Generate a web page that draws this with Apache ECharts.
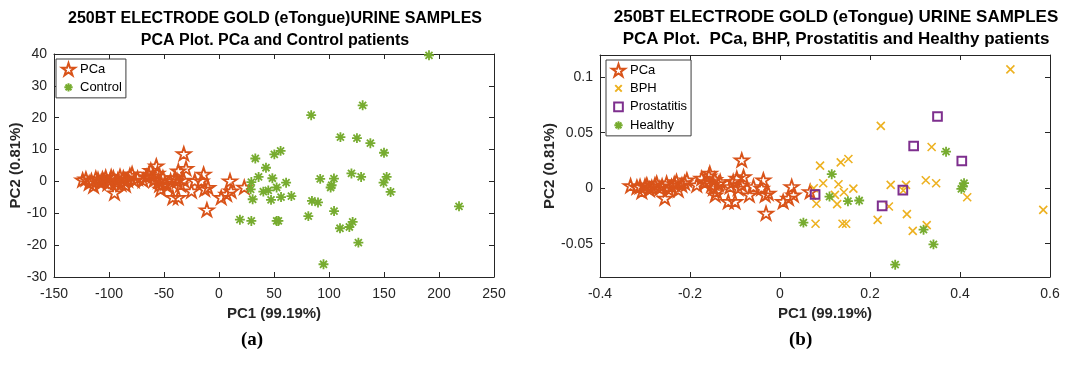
<!DOCTYPE html>
<html>
<head>
<meta charset="utf-8">
<title>250BT electrode gold PCA</title>
<script src="https://cdn.jsdelivr.net/npm/echarts@6/dist/echarts.min.js"></script>
<style>
  html, body { margin: 0; padding: 0; background: #fff; }
  #chart { width: 1069px; height: 367px; }
</style>
</head>
<body>
<div id="chart"></div>
<script>
// ---- data ----
// (a) PCa and Control, [PC1, PC2]
var pcaA = [
  [-124, 0.5], [-121, 0.8], [-118, -0.5], [-116, 0.2], [-114, -1.4], [-112, 1], [-110, 0.6],
  [-108, -0.3], [-106, 0.8], [-105, 0.1], [-103, 1.3], [-101, -0.6], [-99, 0.3], [-98, 1.5],
  [-96, 1.1], [-95, -3.6], [-94, -0.2], [-92, 0.5], [-90, 1.6], [-89, -0.8], [-87, 1.1],
  [-86, 0.2], [-85, -1.1], [-83, 0.5], [-81, 1.9], [-79, 2.4], [-77, 0.3], [-74, 1],
  [-69, 0.4], [-66, 1.5], [-64, 2.3], [-62, 3.5], [-60, 1.8], [-59, 0.5], [-57, 4.9],
  [-56, 2.6], [-55, 0.2], [-54, -1], [-53, -2.4], [-51, 1.2], [-49, -0.5], [-47, -1.4],
  [-44, 0.2], [-42, -5], [-37, -5], [-40, 1.2], [-38, 0.2], [-37, 3.3], [-35, -1],
  [-32, 8.7], [-32, 0.4], [-30, 4.1], [-25, -3], [-22, 0.2], [-14, 2.3], [-16, 0.2],
  [-13, -2.4], [-10, -1.9], [-11, -8.9], [2, -5], [7, -4], [10, 0.2], [11, -3], [23, -1.8]
];
var controlA = [
  [190.9, 39.6], [130.6, 23.9], [83.8, 20.8], [110.4, 13.9], [125.4, 13.6], [137.6, 12],
  [150, 9], [33, 7.2], [50.3, 8.5], [56, 9.6], [42.7, 4.3], [36, 1.4], [48.5, 1], [61, -0.4],
  [29.4, -0.2], [28.8, -2.5], [40.3, -3.2], [44.8, -2.8], [52.4, -1.9], [56.4, -4.9],
  [47.3, -5.8], [65.8, -4.6], [30.6, -5.6], [19, -12], [29.4, -12.4], [52.4, -12.4],
  [54, -12.4], [92, 0.8], [104.5, 0.9], [102.4, -1.2], [101.5, -1.9], [120.4, 2.5],
  [129.2, 1.4], [149.6, -0.4], [152.4, 1.4], [156, -3.3], [84.5, -6.1], [90, -6.6],
  [81.2, -10.9], [104.6, -9.3], [110, -14.7], [118.5, -14.3], [121.5, -12.7],
  [126.7, -19.2], [95, -26], [218.2, -7.8]
];

// (b) PCa, BPH, Prostatitis and Healthy, [PC1, PC2]
var pcaB = [
  [-0.332, 0.0023], [-0.318, 0.001], [-0.311, 0.0015], [-0.307, -0.003], [-0.3, 0.002],
  [-0.296, 0.003], [-0.29, -0.001], [-0.285, 0.0006], [-0.278, 0.003], [-0.274, 0.0045],
  [-0.267, 0], [-0.262, 0.002], [-0.256, -0.009], [-0.252, 0.0045], [-0.247, -0.001],
  [-0.241, 0.0015], [-0.235, 0.004], [-0.23, 0.006], [-0.226, -0.0015], [-0.218, 0.003],
  [-0.212, 0.005], [-0.207, 0.0075], [-0.185, 0.003], [-0.174, 0.009], [-0.168, 0.005],
  [-0.163, 0.006], [-0.158, 0.011], [-0.156, 0.0135], [-0.152, 0.003], [-0.148, 0],
  [-0.145, 0.008], [-0.141, -0.003], [-0.144, -0.006], [-0.137, 0.004], [-0.133, 0.006],
  [-0.115, -0.012], [-0.1, -0.012], [-0.111, 0.0015], [-0.104, 0.006], [-0.096, 0.009],
  [-0.093, 0], [-0.085, 0.0254], [-0.081, 0.0104], [-0.085, 0.003], [-0.068, -0.006],
  [-0.059, 0.0015], [-0.037, 0.0075], [-0.041, 0], [-0.033, -0.006], [-0.026, -0.0045],
  [-0.031, -0.0225], [0.007, -0.012], [0.019, -0.009], [0.026, 0.0015], [0.03, -0.006],
  [0.067, -0.003]
];
var bphB = [
  [0.089, 0.0203], [0.135, 0.0233], [0.152, 0.0263], [0.096, 0.0045], [0.13, 0.0036],
  [0.163, -0.0004], [0.142, -0.0036], [0.122, -0.006], [0.075, 0], [0.081, -0.014],
  [0.127, -0.0144], [0.079, -0.032], [0.139, -0.032], [0.147, -0.032], [0.246, 0.003],
  [0.28, 0.003], [0.274, -0.0021], [0.242, -0.0165], [0.217, -0.0285], [0.282, -0.0234],
  [0.295, -0.0384], [0.326, -0.0333], [0.324, 0.0072], [0.347, 0.0045], [0.416, -0.0081],
  [0.512, 0.107], [0.224, 0.0562], [0.337, 0.0371], [0.585, -0.0195]
];
var prostatitisB = [
  [0.35, 0.0646], [0.297, 0.038], [0.404, 0.0245], [0.273, -0.0018], [0.227, -0.0159],
  [0.078, -0.0057]
];
var healthyB = [
  [0.369, 0.0329], [0.409, 0.0045], [0.406, 0.0015], [0.403, -0.0006], [0.115, 0.0126],
  [0.11, -0.0075], [0.151, -0.0117], [0.176, -0.0111], [0.319, -0.0374], [0.341, -0.0506],
  [0.256, -0.0689], [0.052, -0.031]
];

// tick values for (b) y axis (range -0.08 .. 0.12)
var yTicksB = [-0.05, 0, 0.05, 0.1];

// ---- styling ----
var orange = '#D95319', yellow = '#EDB120', purple = '#7E2F8E', green = '#77AC30';
var axisColor = '#262626';
var font = "'Liberation Sans', Arial, sans-serif";

// the leading moveTo points only widen the box, so the legend icons come out smaller
var starPath = 'path://M0,-1L0.2245,-0.309L0.951,-0.309L0.363,0.118L0.588,0.809L0,0.382L-0.588,0.809L-0.363,0.118L-0.951,-0.309L-0.2245,-0.309Z';
var asteriskPath = 'path://M-1.56,-1.56M1.56,1.56M0,-1L0,1M-1,0L1,0M-0.707,-0.707L0.707,0.707M-0.707,0.707L0.707,-0.707';
var crossPath = 'path://M-2,-2M2,2M-1,-1L1,1M-1,1L1,-1';
var squarePath = 'path://M-1.5,-1.5M1.5,1.5M-1,-1L1,-1L1,1L-1,1Z';

function markerSeries(name, data, grid, symbol, size, color, width) {
  return {
    name: name,
    type: 'scatter',
    xAxisIndex: grid * 2,
    yAxisIndex: grid * 2,
    data: data,
    symbol: symbol,
    symbolSize: size,
    itemStyle: { color: 'rgba(255,255,255,0)', borderColor: color, borderWidth: width, opacity: 1 },
    emphasis: { disabled: true }
  };
}

// main axis (labels) plus a mirror axis with only inward ticks: MATLAB box
function xAxes(grid, min, max, interval, name) {
  var base = {
    type: 'value', gridIndex: grid, min: min, max: max, interval: interval,
    splitLine: { show: false },
    axisLine: { show: true, onZero: false, lineStyle: { color: axisColor, width: 1 } },
    axisTick: { show: true, inside: true, length: 5, lineStyle: { color: axisColor } }
  };
  return [
    Object.assign({}, base, {
      position: 'bottom',
      name: name, nameLocation: 'middle', nameGap: 27,
      nameTextStyle: { color: axisColor, fontFamily: font, fontSize: 15, fontWeight: 'bold' },
      axisLabel: { color: axisColor, fontFamily: font, fontSize: 14, margin: 10 }
    }),
    Object.assign({}, base, { position: 'top', axisLabel: { show: false } })
  ];
}

function yAxes(grid, min, max, interval, ticks, name, gap) {
  var base = {
    type: 'value', gridIndex: grid, min: min, max: max,
    splitLine: { show: false },
    axisLine: { show: true, onZero: false, lineStyle: { color: axisColor, width: 1 } },
    axisTick: { show: true, inside: true, length: 5, lineStyle: { color: axisColor } }
  };
  if (interval) base.interval = interval;
  if (ticks) base.axisTick.customValues = ticks;
  var label = { color: axisColor, fontFamily: font, fontSize: 14, margin: 7 };
  if (ticks) label.customValues = ticks;
  return [
    Object.assign({}, base, {
      position: 'left',
      name: name, nameLocation: 'middle', nameGap: gap,
      nameTextStyle: { color: axisColor, fontFamily: font, fontSize: 15, fontWeight: 'bold' },
      axisLabel: label
    }),
    Object.assign({}, base, { position: 'right', axisLabel: { show: false } })
  ];
}

var xA = xAxes(0, -150, 250, 50, 'PC1 (99.19%)');
var xB = xAxes(1, -0.4, 0.6, 0.2, 'PC1 (99.19%)');
var yA = yAxes(0, -30, 40, 10, null, 'PC2 (0.81%)', 28);
var yB = yAxes(1, -0.08, 0.12, null, yTicksB, 'PC2 (0.81%)', 30);

function legendBox(left, top, names) {
  return {
    orient: 'vertical', left: left, top: top,
    data: names,
    itemWidth: 13, itemHeight: 13, itemGap: 3.5,
    padding: [3, 4, 3, 5],
    borderColor: '#3c3c3c', borderWidth: 1, backgroundColor: '#fff',
    textStyle: { color: '#000', fontFamily: font, fontSize: 13 },
    selectedMode: false
  };
}

var chart = echarts.init(document.getElementById('chart'));
chart.setOption({
  animation: false,
  backgroundColor: '#fff',
  title: [{
    text: '250BT ELECTRODE GOLD (eTongue)URINE SAMPLES\nPCA Plot. PCa and Control patients',
    left: 270, top: 2, textAlign: 'center',
    textStyle: { color: '#000', fontFamily: font, fontSize: 16, fontWeight: 'bold', lineHeight: 22.5 }
  }, {
    text: '250BT ELECTRODE GOLD (eTongue) URINE SAMPLES\nPCA Plot.  PCa, BHP, Prostatitis and Healthy patients',
    left: 831, top: 2, textAlign: 'center',
    textStyle: { color: '#000', fontFamily: font, fontSize: 17, fontWeight: 'bold', lineHeight: 21.5 }
  }],
  legend: [
    legendBox(56, 59, ['PCa', 'Control']),
    legendBox(606, 60, ['PCa', 'BPH', 'Prostatitis', 'Healthy'])
  ],
  grid: [
    { left: 54, right: 575, top: 54, bottom: 90, outerBoundsMode: 'none' },
    { left: 600, right: 19, top: 55, bottom: 90, outerBoundsMode: 'none' }
  ],
  xAxis: xA.concat(xB),
  yAxis: yA.concat(yB),
  series: [
    markerSeries('PCa', pcaA, 0, starPath, [14, 13], orange, 1.8),
    markerSeries('Control', controlA, 0, asteriskPath, 15.5, green, 1.8),
    markerSeries('PCa', pcaB, 1, starPath, [14, 13], orange, 1.8),
    markerSeries('BPH', bphB, 1, crossPath, 16, yellow, 1.6),
    markerSeries('Prostatitis', prostatitisB, 1, squarePath, 13, purple, 2),
    markerSeries('Healthy', healthyB, 1, asteriskPath, 15.5, green, 1.8)
  ],
  graphic: [
    { type: 'text', left: 241, top: 331, style: { text: '(a)', fill: '#000', font: "bold 19px 'Liberation Serif', serif" } },
    { type: 'text', left: 789, top: 331, style: { text: '(b)', fill: '#000', font: "bold 19px 'Liberation Serif', serif" } }
  ]
});
</script>
</body>
</html>
